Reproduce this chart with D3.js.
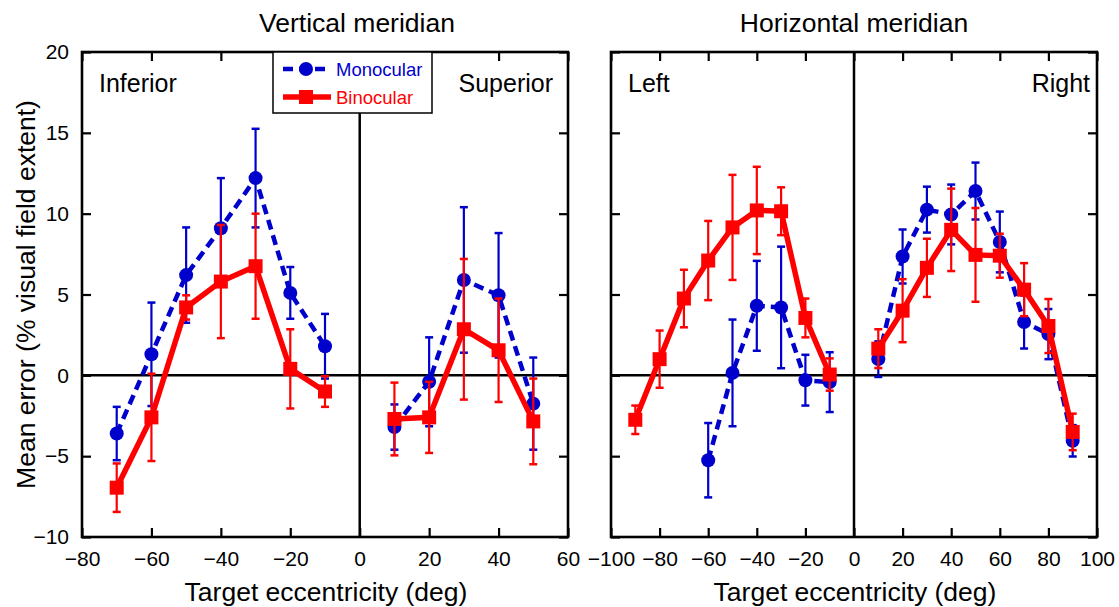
<!DOCTYPE html>
<html><head><meta charset="utf-8">
<script src="https://cdn.jsdelivr.net/npm/d3@7"></script>
<style>body{margin:0;background:#fff}svg{display:block;font-family:"Liberation Sans",Arial,sans-serif}</style>
</head><body><svg id="c" width="1119" height="607"></svg>
<script>
// ---- data ----
const vertInfX = [-70,-60,-50,-40,-30,-20,-10];
const vertInfMono = [-3.6, 1.3, 6.2, 9.1, 12.2, 5.1, 1.8];
const vertInfMonoErr = [1.65, 3.2, 2.95, 3.1, 3.05, 1.6, 2.0];
const vertInfBino = [-6.95, -2.6, 4.2, 5.8, 6.75, 0.4, -1.0];
const vertInfBinoErr = [1.5, 2.7, 0.75, 3.5, 3.25, 2.45, 0.95];

const vertSupX = [10,20,30,40,50];
const vertSupMono = [-3.2, -0.4, 5.9, 4.95, -1.75];
const vertSupMonoErr = [1.4, 2.75, 4.5, 3.85, 2.85];
const vertSupBino = [-2.7, -2.6, 2.85, 1.55, -2.85];
const vertSupBinoErr = [2.25, 2.2, 4.35, 3.2, 2.65];

const horLeftBinoX = [-90,-80,-70,-60,-50,-40,-30,-20,-10];
const horLeftBino = [-2.75, 1.0, 4.75, 7.1, 9.15, 10.2, 10.15, 3.55, 0.05];
const horLeftBinoErr = [0.88, 1.77, 1.78, 2.45, 3.25, 2.7, 1.48, 1.2, 1.0];
const horLeftMonoX = [-60,-50,-40,-30,-20,-10];
const horLeftMono = [-5.25, 0.15, 4.3, 4.2, -0.3, -0.42];
const horLeftMonoErr = [2.3, 3.3, 2.78, 3.76, 1.57, 1.85];

const horRightX = [10,20,30,40,50,60,70,80,90];
const horRightMono = [1.0, 7.35, 10.25, 9.95, 11.4, 8.25, 3.3, 2.55, -4.05];
const horRightMonoErr = [1.1, 1.67, 1.42, 1.85, 1.76, 1.88, 1.64, 1.55, 0.97];
const horRightBino = [1.65, 4.0, 6.65, 9.0, 7.45, 7.4, 5.3, 3.05, -3.5];
const horRightBinoErr = [1.2, 1.95, 1.8, 2.55, 2.9, 1.36, 1.64, 1.67, 1.13];

const yTicks = [-10,-5,0,5,10,15,20];
const xTicksVert = [-80,-60,-40,-20,0,20,40,60];
const xTicksHor = [-100,-80,-60,-40,-20,0,20,40,60,80,100];
const titles = ["Vertical meridian","Horizontal meridian"];
const seriesNames = ["Monocular","Binocular"];

// ---- styling ----
const BLUE = "#0000cc", RED = "#ff0000";
const FONT = '"Liberation Sans",Arial,sans-serif';
const svg = d3.select("#c");

const y = d3.scaleLinear().domain([-10,20]).range([537,52]);
const panels = [
  {x: d3.scaleLinear().domain([-80,60]).range([82,568]), ticks: xTicksVert, title: titles[0], titleX: 357,
   labels: [["Inferior","start",99],["Superior","end",553]], showY: true,
   groups: [
     {xs: vertInfX, mono: vertInfMono, monoErr: vertInfMonoErr, monoX: vertInfX, bino: vertInfBino, binoErr: vertInfBinoErr},
     {xs: vertSupX, mono: vertSupMono, monoErr: vertSupMonoErr, monoX: vertSupX, bino: vertSupBino, binoErr: vertSupBinoErr}
   ]},
  {x: d3.scaleLinear().domain([-100,100]).range([611,1097]), ticks: xTicksHor, title: titles[1], titleX: 854,
   labels: [["Left","start",628],["Right","end",1090]], showY: false,
   groups: [
     {xs: horLeftBinoX, mono: horLeftMono, monoErr: horLeftMonoErr, monoX: horLeftMonoX, bino: horLeftBino, binoErr: horLeftBinoErr},
     {xs: horRightX, mono: horRightMono, monoErr: horRightMonoErr, monoX: horRightX, bino: horRightBino, binoErr: horRightBinoErr}
   ]}
];

panels.forEach(p => {
  const g = svg.append("g");
  const [x0,x1] = p.x.range(), [yb,yt] = y.range();
  // zero lines
  g.append("line").attr("x1",p.x(0)).attr("x2",p.x(0)).attr("y1",yt).attr("y2",yb).attr("stroke","#000").attr("stroke-width",2.5);
  g.append("line").attr("x1",x0).attr("x2",x1).attr("y1",y(0)).attr("y2",y(0)).attr("stroke","#000").attr("stroke-width",2.5);
  // axes with inward ticks
  const tl = 9;
  g.append("g").attr("transform",`translate(0,${yb})`)
    .call(d3.axisBottom(p.x).tickValues(p.ticks).tickSizeInner(-tl).tickSizeOuter(0).tickPadding(14).tickFormat(d=>d<0?"\u2212"+(-d):d))
    .call(a=>{a.select(".domain").remove(); a.selectAll("line").attr("stroke-width",2.2); a.selectAll("text").attr("font-size",21).attr("font-family",FONT).attr("fill","#000");});
  g.append("g").attr("transform",`translate(0,${yt})`)
    .call(d3.axisTop(p.x).tickValues(p.ticks).tickSizeInner(-tl).tickSizeOuter(0).tickFormat(""))
    .call(a=>{a.select(".domain").remove(); a.selectAll("line").attr("stroke-width",2.2);});
  g.append("g").attr("transform",`translate(${x0},0)`)
    .call(d3.axisLeft(y).tickValues(yTicks).tickSizeInner(-tl).tickSizeOuter(0).tickPadding(13).tickFormat(d=>p.showY?(d<0?"\u2212"+(-d):d):""))
    .call(a=>{a.select(".domain").remove(); a.selectAll("line").attr("stroke-width",2.2); a.selectAll("text").attr("font-size",21).attr("font-family",FONT).attr("fill","#000");});
  g.append("g").attr("transform",`translate(${x1},0)`)
    .call(d3.axisRight(y).tickValues(yTicks).tickSizeInner(-tl).tickSizeOuter(0).tickFormat(""))
    .call(a=>{a.select(".domain").remove(); a.selectAll("line").attr("stroke-width",2.2);});
  g.append("rect").attr("x",x0).attr("y",yt).attr("width",x1-x0).attr("height",yb-yt)
    .attr("fill","none").attr("stroke","#000").attr("stroke-width",2.6);

  // titles
  svg.append("text").attr("x",p.titleX).attr("y",32).attr("text-anchor","middle").attr("font-size",26.5).attr("font-family",FONT).text(p.title);
  svg.append("text").attr("x",(x0+x1)/2+1).attr("y",601).attr("text-anchor","middle").attr("font-size",26.5).attr("font-family",FONT).text("Target eccentricity (deg)");
  p.labels.forEach(([t,anc,lx]) => svg.append("text").attr("x",lx).attr("y",92).attr("text-anchor",anc).attr("font-size",25).attr("font-family",FONT).text(t));

  // data
  const dg = svg.append("g");
  const drawSeries = (xs, vals, errs, color, kind) => {
    const pts = xs.map((xv,i)=>({x:xv, v:vals[i], e:errs[i]}));
    const cap = 4;
    pts.forEach(d => {
      dg.append("line").attr("x1",p.x(d.x)).attr("x2",p.x(d.x)).attr("y1",y(d.v-d.e)).attr("y2",y(d.v+d.e)).attr("stroke",color).attr("stroke-width",2.2);
      [d.v-d.e, d.v+d.e].forEach(v => dg.append("line").attr("x1",p.x(d.x)-cap).attr("x2",p.x(d.x)+cap).attr("y1",y(v)).attr("y2",y(v)).attr("stroke",color).attr("stroke-width",2.5));
    });
    const line = d3.line().x(d=>p.x(d.x)).y(d=>y(d.v));
    const path = dg.append("path").datum(pts).attr("d",line).attr("fill","none").attr("stroke",color);
    if (kind==="circle") { path.attr("stroke-width",4.5).attr("stroke-dasharray","10,6"); }
    else { path.attr("stroke-width",5.5).attr("stroke-linejoin","miter"); }
    pts.forEach(d => {
      if (kind==="circle") dg.append("circle").attr("cx",p.x(d.x)).attr("cy",y(d.v)).attr("r",7).attr("fill",color);
      else dg.append("rect").attr("x",p.x(d.x)-7).attr("y",y(d.v)-7).attr("width",14).attr("height",14).attr("fill",color);
    });
  };
  p.groups.forEach(gr => {
    drawSeries(gr.monoX, gr.mono, gr.monoErr, BLUE, "circle");
    drawSeries(gr.xs, gr.bino, gr.binoErr, RED, "square");
  });
});

// y title
svg.append("text").attr("transform","translate(35,294.5) rotate(-90)").attr("text-anchor","middle")
  .attr("font-size",26.5).attr("font-family",FONT).text("Mean error (% visual field extent)");

// legend
const lg = svg.append("g");
lg.append("rect").attr("x",273).attr("y",52).attr("width",159).attr("height",61).attr("fill","#fff").attr("stroke","#000").attr("stroke-width",1.5);
[[seriesNames[0],BLUE,69,"circle"],[seriesNames[1],RED,97,"square"]].forEach(([t,c,ly,k]) => {
  const l = lg.append("line").attr("x1",283).attr("x2",331).attr("y1",ly).attr("y2",ly).attr("stroke",c);
  if (k==="circle") { l.attr("stroke-width",4.5).attr("stroke-dasharray","10,6"); lg.append("circle").attr("cx",306).attr("cy",ly).attr("r",7).attr("fill",c); }
  else { l.attr("stroke-width",5.5); lg.append("rect").attr("x",299).attr("y",ly-7).attr("width",14).attr("height",14).attr("fill",c); }
  lg.append("text").attr("x",336).attr("y",ly+6.5).attr("font-size",18.5).attr("font-family",FONT).attr("fill",c).text(t);
});
</script></body></html>
